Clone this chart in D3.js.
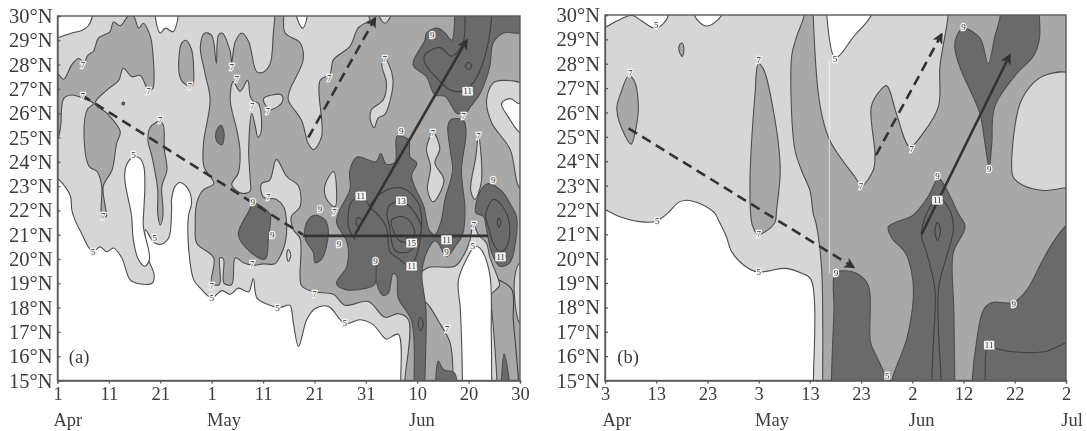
<!DOCTYPE html>
<meta charset="utf-8">
<style>
body { margin: 0; background: #fff; }
svg { filter: blur(0.4px); }
text { font-family: 'Liberation Serif', serif; fill: #3c3c3c; }
.axis text { font-size: 18.5px; }
.axis.lat text { font-size: 20.5px; }
.axis path, .axis line { stroke: #5a5a5a; stroke-width: 1.3; }
.region { stroke: #4c4c4c; stroke-width: 1.1; stroke-linejoin: round; }
.contour { fill: none; stroke: #3f3f3f; stroke-width: 1.1; }
.level { font-size: 9px; text-anchor: middle; dominant-baseline: central; paint-order: stroke; stroke: #f4f4f4; stroke-width: 2.6px; fill: #333; }
.levelbox { fill: #f2f2f2; stroke: #555; stroke-width: 0.5; }
.arrow { fill: none; stroke: #333; stroke-width: 2.6; }
.seam { fill: none; stroke: #f4f4f4; stroke-width: 0.8; }
.month, .tag { font-size: 18.5px; text-anchor: middle; }
</style>
<svg id="chart" width="1087" height="431"></svg>
<script src="https://d3js.org/d3.v7.min.js"></script>
<script>

// everything is [days since the first tick, latitude]; points past 0..90 / 15..30 get clipped by the frame
var latTicks = [15, 16, 17, 18, 19, 20, 21, 22, 23, 24, 25, 26, 27, 28, 29, 30];
var dayTicks = [0, 10, 20, 30, 40, 50, 60, 70, 80, 90];
var aDayLabels = ["1", "11", "21", "1", "11", "21", "31", "10", "20", "30"];
var bDayLabels = ["3", "13", "23", "3", "13", "23", "2", "12", "22", "2"];
var aMonths = [["Apr", 2], ["May", 32.4], ["Jun", 70.9]];
var bMonths = [["Apr", 2.3], ["May", 32.6], ["Jun", 61.8], ["Jul", 91.2]];

// panel (a), rainfall below 5
var aWhite = [
    [[-1,30.6],[-1,29.05],[0,29.1],[2.8,29.3],[4.7,29.4],[6,29.6],[6.8,30],[7,30.6]],
    [[19,30.6],[19,30],[20,29.3],[21,29.5],[22.5,29.35],[23.5,30],[23.6,30.6]],
    [[-1,14.4],[-1,23.3],[0,23.3],[1.2,23.05],[2.5,22.6],[2.8,22],[3.4,21.6],[4.7,21.05],[6,20.5],[6.9,20.3],[8.3,20.5],[9.6,20.3],[10.9,20.45],[12.5,20.05],[14.1,19.15],[15.4,19],[18.4,19],[18.8,19.35],[17.7,20],[17.1,21.2],[18.7,20.7],[20,20.6],[21.6,20.85],[22.2,22],[22.2,22.45],[22.9,23],[23.9,23.15],[25.5,22.85],[26.1,22.3],[25.5,21.8],[25.5,20.5],[26.5,19.15],[27.8,18.8],[30,18.4],[32,18.7],[33.6,18.55],[35.2,18.8],[37.2,18.65],[38.1,19.2],[38.8,18.4],[40.7,18.15],[43.3,18],[45.2,18.1],[45.9,17.35],[46.9,16.4],[48.5,17.5],[50.1,17.95],[52.7,18.05],[55.9,17.35],[58.9,17.5],[61.4,17.3],[63.4,16.8],[64,16.7],[66.3,16.9],[66.8,15],[66.8,14.4]],
    [[14.75,24.2],[13.3,23.8],[13.1,23.26],[13.8,22.44],[14.4,21.8],[14.75,20.8],[15.7,20],[17,19.7],[17.9,20],[16.7,21.34],[16.8,22.03],[17,23],[16.8,23.8],[16,24.15]]
];

// rainfall above 7
var aMid = [
    [[-1,24.95],[-1,27.75],[0,27.65],[1.2,27.4],[2.8,28],[4.1,28.25],[5.1,28.1],[6,28.4],[7,28.55],[8,29.1],[10.2,29.35],[10.9,29.75],[12.2,29.6],[13.8,30],[14.8,30],[15.8,29.5],[16.7,29.7],[18,29.2],[18.5,28.6],[18.5,27],[17.7,26.95],[16.1,27.55],[14.5,27.5],[12.8,27.85],[11.9,27.35],[9.6,26.95],[7.3,26.4],[9.6,26],[12.2,25.25],[11.5,24.75],[10.6,23.65],[8.9,23],[9.3,22.15],[9.5,21.75],[8.6,21.75],[8.5,22.15],[8.6,23],[7.7,23.6],[6.2,23.8],[5.2,24.9],[5.8,26.15],[7,26.4],[5.1,26.6],[2.8,26.75],[1.2,26.6],[0.6,25.45],[0,24.95]],
    [[20,25.65],[20.6,25.5],[20.8,24.5],[21.3,23.65],[20.3,23],[20.5,22.15],[20.5,21.75],[20,21.4],[19.5,21.9],[19.5,22.85],[18.4,24.2],[17.6,24.9],[18,25.4],[19,25.6]],
    [[25,29],[26.1,28.6],[26.5,27.7],[26.3,27.15],[25.2,27.15],[23.9,27.45],[23.7,28.45],[24.2,28.9]],
    [[42.3,30.6],[42.3,30],[42,29.3],[41.4,28.05],[40.1,27.7],[38.8,27.7],[37.2,28.95],[35.9,29.3],[34.6,28.95],[33.9,28.1],[33.6,28.55],[32,29.3],[31.3,29.2],[30.9,28.05],[30,29.2],[28.7,29.3],[27.8,28.75],[28.7,27.65],[29.7,26.55],[28.4,24.75],[28.5,23.8],[30.4,23.1],[28.4,22.85],[27.1,22.3],[26.8,21.35],[27.1,20.65],[30.4,20.05],[30,19],[31.5,18.95],[31.6,20.05],[32.3,20],[32.4,19],[33.9,18.95],[34.6,20.05],[36.2,19.85],[38.1,19.75],[40.1,19.8],[42.3,19.8],[43.3,20.1],[44.3,20.65],[44.6,21.35],[44,22.15],[42.6,22.45],[40.05,22.55],[39.7,23.1],[41.3,23.25],[42.6,24.1],[44.6,23.4],[46.9,23],[47.2,22.15],[45.5,21.75],[45.9,21.2],[47.2,20.85],[47.2,19.25],[47.5,18.9],[49.8,18.65],[53.7,18.55],[55.9,18.1],[60.5,18.25],[63.7,17.6],[66.3,17.75],[68.3,17.5],[67.6,15],[67.6,14.4],[91,14.4],[91,30.6]]
];

// back to 5-7 inside the big 7 area
var aLight = [
    [[44,30.6],[44,30],[44.3,29.3],[47.2,28.9],[47.8,28.2],[45.2,26.95],[44.9,26.55],[47.5,25.7],[48.8,24.75],[49.8,24.5],[51.4,25.05],[51.1,27.35],[53,27.6],[53.7,28.2],[56.9,28.75],[58.5,29.5],[60.8,29.85],[60.5,30],[60.5,30.6]],
    [[62.6,30.6],[62.6,30],[63.7,29.7],[64.8,30],[64.8,30.6]],
    [[40.1,26.6],[41.7,26.75],[43.6,26.75],[43.8,26.5],[42.7,26.25],[41.4,26.15],[40.4,26.35]],
    [[33.6,26.55],[34.2,27.3],[35.5,26.9],[37,27.35],[37.5,26.7],[38.1,26.5],[39.1,26.4],[39.6,25.2],[39,25],[38.5,25.45],[37.8,26],[37.2,24.5],[37.5,23.25],[37.5,22.8],[35.9,22.7],[33.9,23.05],[35.2,23.55],[35.5,24.5],[34.9,25.3]],
    [[63.7,28.25],[64.4,28.05],[65.3,27.35],[64.7,26.5],[63.7,25.95],[62.4,25.8],[61.6,25.4],[60.8,25.8],[61.1,26.15],[63.4,26.55],[64,27.25],[63.1,28]],
    [[73.1,25.2],[74.4,24.55],[73.45,23.95],[75.2,23.25],[73.1,22.35],[72,22.85],[72.6,23.8],[71.8,24.55]],
    [[81.9,25.1],[82.5,23.2],[81.2,22.45],[80.4,22.85],[81.4,24.2]],
    [[91,27.1],[86.8,27.35],[84.8,27.25],[83.5,26.55],[84.5,25.6],[88.1,24.5],[89.7,23],[91,22.8]],
    [[53.7,23.6],[54.3,22.85],[54,22.15],[52.4,22.45],[52,23]],
    [[70.5,19.35],[72.2,19.65],[77.3,19.7],[78.9,20.1],[80.3,20.8],[80.6,21.2],[80.9,21.5],[81.9,21],[83.5,20.65],[84.1,20.1],[85.8,19.15],[86,18.9],[84.1,18.45],[84.5,17.9],[85.5,15],[85.5,14.4],[77,14.4],[77,15],[76.4,16.55],[74.4,17.35],[72.4,18.05],[70.8,18.45]],
    [[44.9,20.4],[45.4,20.15],[44.9,19.9],[44.6,20.15]],
    [[91,19.85],[90,19.85],[89,19.3],[89.2,17.9],[90,17.35],[91,17.35]]
];

var aWhiteTop = [
    [[46.5,30.6],[46.5,30],[47.7,29.5],[48.6,30],[48.6,30.6]],
    [[78.8,14.4],[78.8,15],[78.4,17.9],[78,19.1],[79.6,20],[81.2,20.5],[82.2,20.45],[84.1,19.4],[84.4,17],[84.5,15],[84.5,14.4]],
    [[86.4,26.4],[88.1,26.6],[89.7,26.4],[91,26.4],[91,25.1],[89.7,25.25],[87.7,25.85]]
];

// rainfall above 9
var aDark = [
    [[31.8,25.5],[32.4,25.2],[32,24.7],[31,24.85],[30.9,25.25]],
    [[38.1,22.3],[40.1,22.1],[41.4,21.8],[41.05,20.95],[40.4,20],[37.5,20.3],[35.2,21],[37.2,21.95]],
    [[50,21.8],[52.1,21.6],[52.7,21.05],[51.4,20],[50.1,19.85],[49.8,20.25],[48.2,20.85],[48.5,21.5]],
    [[56.9,23.65],[58.3,24.2],[62,24],[62.9,24.35],[64,23.9],[65.7,24],[66.1,25.05],[68.3,24.9],[68.6,24.2],[69.9,23.95],[68.9,23.4],[71.3,22.15],[71.8,21.6],[72.3,21.2],[73.45,21],[74.7,21.6],[75.4,22.45],[76.9,23.65],[76.4,24.5],[76,25.5],[76.7,25.75],[79,25.7],[79.5,25.2],[78.6,23.65],[79.3,22],[78.8,21],[77.3,20.5],[75.7,20.1],[74.1,20.65],[73.45,20.75],[71.8,20.25],[70.9,19.4],[71.7,17.9],[71.5,15],[71.5,14.4],[69.4,14.4],[69.4,15],[68.9,17.45],[66.3,18.4],[66,19.3],[65.3,19.4],[64.4,18.6],[63.4,18.5],[62.2,18.95],[62,20],[61.7,18.95],[60.1,18.8],[55.9,18.75],[54.3,19],[56.3,19.7],[56.4,20.65],[54.3,21.5],[54.9,22],[56.9,22.85]],
    [[69.2,28],[71.5,29],[71.8,29.3],[73.8,29.5],[75.4,29.3],[76.7,29],[77.3,29.9],[77.3,30.6],[91,30.6],[91,29.35],[86.8,29.3],[84.8,28.9],[84.1,27.9],[82.2,26.8],[80.3,26.25],[79.6,26.05],[77.7,26],[76.7,26.3],[75.4,26.7],[73.45,26.75],[71.8,27.5]],
    [[81.4,21.9],[82.3,22.8],[83.7,23.1],[86.4,22.8],[88.4,22.15],[89.3,21.75],[89.2,20.8],[88,19.85],[86.1,19.7],[84.5,20.25],[83.5,21.2],[82.9,21.75]],
    [[73.6,14.4],[73.6,15],[74.1,15.8],[75.1,15.45],[77.3,15.3],[77.3,14.4]],
    [[86.4,14.4],[86.4,15],[86.9,16.1],[87.9,15],[87.9,14.4]],
    [[12.6,26.45],[13,26.45],[13,26.35],[12.6,26.35]]
];

// 11, 13 and 15 contours, no extra shade
var aRings = [
    [[80,28.1],[80.6,27.95],[80,27.8],[79.3,27.95]],
    [[60.8,22.15],[63.7,22.8],[67.3,22.9],[70.2,22.3],[70.9,21.5],[70.4,20.6],[69.5,19.95],[68.5,19.7],[66.5,20],[64.7,20.3],[64,21.3],[62,21.9]],
    [[64.1,21.9],[64.8,22.25],[67.3,22.35],[69.5,21.9],[70.8,21.3],[70.2,20.8],[68.3,20.3],[65.7,20.35],[64.6,21.35]],
    [[65,21.6],[67,21.75],[68.6,21.55],[69.5,21.05],[68.6,20.7],[66.6,20.75],[65.3,21.2]],
    [[58.3,21.7],[59.2,21.6],[58.9,21.35],[58.2,21.4]],
    [[83.5,22],[84.8,22.45],[86.8,22.1],[88,21.35],[87.4,20.5],[86.1,20.3],[84.8,20.65],[83.8,21.35],[83.3,21.75]],
    [[85.9,21.7],[86.3,21.5],[85.9,21.3],[85.6,21.5]],
    [[70.6,17.6],[71.2,17.35],[70.6,17.05],[70.2,17.35]]
];
var aOpen = [
    [[79.3,30.6],[79.3,30],[78.9,28.9],[76.7,28.35],[74.4,28.7],[71.5,28.4],[71.5,28.05],[73.8,27.45],[76.4,26.95],[78.6,26.9],[80.9,27.25],[82.5,27.9],[83.8,28.9],[84.5,30],[84.5,30.6]],
    [[57.9,20.8],[56.6,21.35],[57.2,22.35],[59,22.55],[60.8,22.15]],
    [[85.8,19.15],[88.4,18.75],[88.7,17.5],[89.7,15],[89.7,14.4]]
];

var aLabels = [
    ["7",4.9,28],["7",17.7,26.9],["7",4.9,26.7],["7",25.8,27.1],["7",20,25.7],["5",14.8,24.3],["7",8.9,21.75],["5",6.9,20.3],["5",18.9,20.85],
    ["7",33.9,27.9],["7",34.9,27.4],["7",37.9,26.3],["7",40.9,26.1],["7",41,22.55],["9",38,22.35],["7",30,18.9],["5",30,18.4],["7",37.9,19.8],["9",41.8,21],["5",42.8,18],
    ["7",52.9,27.45],["7",63.7,28.25],["9",72.9,29.2],["11",79.8,26.9],["7",79,25.9],["9",66.9,25.25],["7",73,25.2],["7",81.9,25.05],["9",84.8,23.25],["11",59,22.6],["13",66.9,22.4],["9",51.1,22.05],["7",53.9,21.95],
    ["7",50,18.55],["5",55.9,17.35],["9",54.8,20.6],["9",61.9,19.9],["15",68.9,20.65],["11",68.9,19.7],["11",75.7,20.8],["9",75.7,20.3],["7",81,21.4],["5",80.8,20.55],["11",86.2,20.1],["7",75.8,17.1]
];

var aDashed = [[[4.7,26.75],[47.8,21]]];
var aDashedArrow = [[[48.8,25],[61.8,29.9]]];
var aSolid = [[[47.8,20.95],[83.8,20.95]]];
var aSolidArrow = [[[57.9,21],[79.6,29]]];

// panel (b)
var bWhite = [
    [[-1,30.6],[-1,29.45],[0,29.5],[2.3,29.75],[4.6,29.97],[5.6,29.97],[7.2,29.75],[9.8,29.45],[11.4,29.65],[12.4,30],[12.5,30.6]],
    [[17.4,30.6],[17.4,30],[19.8,29.55],[22.8,30],[22.8,30.6]],
    [[43.3,30.6],[43.3,30],[44.7,28.3],[45.5,28.3],[48.5,29.1],[52,30],[52.2,30.6]],
    [[-1,14.4],[-1,22],[0,22],[3.2,21.7],[7.8,21.5],[10.1,21.55],[12.4,21.9],[14.3,22.3],[15.9,22.4],[18.6,22.25],[21.5,21.85],[22.1,21.6],[23.7,20.9],[24.7,20.3],[27.3,19.7],[29.9,19.45],[32,19.5],[35.2,19.6],[38.4,19.4],[40.2,19.15],[40.7,15],[40.7,14.4]]
];
var bMid = [
    [[4.6,27.5],[5.7,27.3],[6.5,26.25],[6,25.3],[5.1,24.7],[3.9,25.05],[2.3,26.15],[3.1,26.8]],
    [[15,28.85],[15.4,28.65],[15.1,28.3],[14.5,28.5],[14.5,28.75]],
    [[29.95,28],[30.9,27.8],[32.5,26.5],[34.2,23.75],[33.5,22],[33.2,21.5],[31.6,21.15],[29.95,21],[28.8,21.35],[28.3,22.65],[29.3,26.8]],
    [[38.9,30.6],[38.9,30],[37.4,29.1],[36.5,28.4],[36.3,26.8],[37.1,24.45],[38.4,23.6],[40,22.8],[40.65,21.85],[41.3,21.35],[42.3,19.55],[42.5,15],[42.5,14.4],[91,14.4],[91,30.6],[67,30.6],[67,30],[65.4,27.9],[65.1,26.25],[62.1,25.15],[59.5,24.6],[56.9,25.95],[55,27.1],[53.7,26.9],[52,26.25],[52.7,24.3],[52.4,23.65],[50.1,23],[48.8,23.35],[43.9,24.85],[42,26.25],[40.65,30],[40.65,30.6]]
];
var bLight = [
    [[91,27.55],[86.2,27.55],[83.6,27.2],[81,26.35],[79.4,24],[79.7,23.35],[81.7,23],[85.6,22.8],[89.8,22.9],[91,22.9]]
];
var bDark = [
    [[70,29.45],[73.2,29.05],[74.8,28],[76.1,29.1],[77.2,30],[77.2,30.6],[84.8,30.6],[84.8,30],[84.8,29],[83.6,28.3],[80.4,27.6],[76.1,26.25],[75.5,24.7],[75,23.75],[74.2,24.7],[73.2,25.95],[69.3,27.85],[68.3,28.65],[68.6,29.1]],
    [[44.2,14.4],[44.2,15],[44.7,17.9],[44.9,19.4],[46.5,19.5],[49.1,19.4],[51.4,18.9],[51.85,16.55],[53,16],[55,15],[55,14.4]],
    [[56,14.4],[56,15],[58.9,16.7],[60.2,18.45],[59.9,19.4],[58.6,20.25],[56,20.85],[55.3,21.3],[56.9,21.5],[59.5,21.7],[60.5,21.85],[63.1,22.55],[65.1,23.3],[66,23.1],[69,21.85],[70.3,21.3],[68,20.25],[68.1,17.9],[68.3,15],[68.3,14.4]],
    [[71.7,14.4],[71.7,15],[72.5,16.55],[73.9,17.9],[75.5,18.2],[79.7,18.2],[82.3,18.7],[85.6,20],[87.9,20.8],[90,21.35],[91,21.5],[91,14.4]]
];
var bRings = [
    [[64.9,21.5],[65.5,21.15],[64.9,20.75],[64.4,21.15]]
];
var bOpen = [
    [[63.8,14.4],[63.8,15],[64.1,16.55],[64.4,18.75],[62.5,20.45],[61.8,20.9],[62.8,21.85],[65,22.5],[67.3,22],[68,21.2],[66.7,20.1],[65.1,18.75],[65.6,15],[65.6,14.4]],
    [[74.2,14.4],[74.2,15],[74.5,16.3],[75,16.45],[76.5,16.3],[81.7,16.15],[86.2,16.2],[90,16.55],[91,16.6]]
];
var bSeam = [[[43.8,28.2],[43.8,19.4]]];
var bLabels = [
    ["5",10,29.6],["7",5,27.6],["7",30,28.15],["7",30,21],["5",10.2,21.55],["5",30,19.45],["5",44.9,28.2],["7",59.9,24.5],["7",50,23],
    ["9",70,29.5],["9",75,23.7],["9",64.9,23.4],["11",64.9,22.4],["9",45.1,19.4],["9",79.8,18.15],["11",75,16.45],["5",55.1,15.2]
];
var bDashedArrow = [[[4.6,25.35],[48.5,19.65]], [[52.9,24.25],[65.7,29.2]]];
var bSolidArrow = [[[61.8,21],[79,28.35]]];

var shades = {white: "#ffffff", light: "#d6d6d6", mid: "#a8a8a8", dark: "#6a6a6a"};

var svg = d3.select("#chart");
var defs = svg.append("defs");

defs.append("marker")
    .attr("id", "head")
    .attr("viewBox", "0 0 10 10")
    .attr("refX", 8).attr("refY", 5)
    .attr("markerUnits", "userSpaceOnUse")
    .attr("markerWidth", 11).attr("markerHeight", 11)
    .attr("orient", "auto")
    .append("path")
    .attr("d", "M0,0 L10,5 L0,10 L2.5,5 Z")
    .attr("fill", "#333");

function drawPanel(id, box, d) {
    var x = d3.scaleLinear().domain([0, 90]).range([box.left, box.right]);
    var y = d3.scaleLinear().domain([15, 30]).range([box.bottom, box.top]);

    defs.append("clipPath").attr("id", "clip" + id)
        .append("rect")
        .attr("x", box.left).attr("y", box.top)
        .attr("width", box.right - box.left).attr("height", box.bottom - box.top);

    var ring = d3.line().x(function(p) { return x(p[0]); }).y(function(p) { return y(p[1]); })
        .curve(d3.curveCatmullRomClosed.alpha(0.5));
    var open = d3.line().x(function(p) { return x(p[0]); }).y(function(p) { return y(p[1]); })
        .curve(d3.curveCatmullRom.alpha(0.5));
    var straight = d3.line().x(function(p) { return x(p[0]); }).y(function(p) { return y(p[1]); });

    var g = svg.append("g").attr("clip-path", "url(#clip" + id + ")");

    g.append("rect")
        .attr("x", box.left).attr("y", box.top)
        .attr("width", box.right - box.left).attr("height", box.bottom - box.top)
        .attr("fill", shades.light);

    function layer(polys, shade) {
        g.selectAll(null).data(polys).enter().append("path")
            .attr("class", "region")
            .attr("d", ring)
            .attr("fill", shade);
    }
    layer(d.white, shades.white);
    layer(d.mid, shades.mid);
    layer(d.light, shades.light);
    layer(d.whiteTop, shades.white);
    layer(d.dark, shades.dark);

    g.selectAll(null).data(d.rings).enter().append("path").attr("class", "contour").attr("d", ring);
    g.selectAll(null).data(d.open).enter().append("path").attr("class", "contour").attr("d", open);
    g.selectAll(null).data(d.seam).enter().append("path").attr("class", "seam").attr("d", straight);

    // arrows sit on top of the shading
    function arrows(lines, dashed, head) {
        g.selectAll(null).data(lines).enter().append("path")
            .attr("class", "arrow")
            .attr("stroke-dasharray", dashed ? "10,6" : null)
            .attr("d", straight)
            .attr("marker-end", head ? "url(#head)" : null);
    }
    arrows(d.dashed, true, false);
    arrows(d.dashedArrow, true, true);
    arrows(d.solid, false, false);
    arrows(d.solidArrow, false, true);

    // the two digit levels got a little box in the original
    g.selectAll(null).data(d.labels.filter(function(l) { return l[0].length > 1; })).enter().append("rect")
        .attr("class", "levelbox")
        .attr("x", function(l) { return x(l[1]) - 5.5; })
        .attr("y", function(l) { return y(l[2]) - 4.5; })
        .attr("width", 11).attr("height", 9);

    g.selectAll(null).data(d.labels).enter().append("text")
        .attr("class", "level")
        .attr("x", function(l) { return x(l[1]); })
        .attr("y", function(l) { return y(l[2]); })
        .text(function(l) { return l[0]; });

    svg.append("rect")
        .attr("x", box.left).attr("y", box.top)
        .attr("width", box.right - box.left).attr("height", box.bottom - box.top)
        .attr("fill", "none").attr("stroke", "#5a5a5a").attr("stroke-width", 1.4);

    svg.append("g")
        .attr("class", "axis lat")
        .attr("transform", "translate(" + box.left + ",0)")
        .call(d3.axisLeft(y).tickValues(latTicks).tickSize(-3).tickPadding(5)
            .tickFormat(function(v) { return v + "°N"; }));

    svg.append("g")
        .attr("class", "axis")
        .attr("transform", "translate(0," + box.bottom + ")")
        .call(d3.axisBottom(x).tickValues(dayTicks).tickSize(3).tickPadding(3)
            .tickFormat(function(v, i) { return d.dayLabels[i]; }));

    svg.selectAll(null).data(d.months).enter().append("text")
        .attr("class", "month")
        .attr("x", function(m) { return x(m[1]); })
        .attr("y", box.bottom + 45)
        .text(function(m) { return m[0]; });

    svg.append("text")
        .attr("class", "tag")
        .attr("x", x(d.tag[1])).attr("y", y(d.tag[2]))
        .text(d.tag[0]);
}

drawPanel("a", {left: 57.5, right: 520, top: 16, bottom: 380.5}, {
    white: aWhite, mid: aMid, light: aLight, whiteTop: aWhiteTop, dark: aDark,
    rings: aRings, open: aOpen, seam: [], dashed: aDashed, dashedArrow: aDashedArrow, solid: aSolid, solidArrow: aSolidArrow,
    labels: aLabels, dayLabels: aDayLabels, months: aMonths, tag: ["(a)", 4.2, 15.7]
});

drawPanel("b", {left: 605, right: 1066, top: 15, bottom: 380.5}, {
    white: bWhite, mid: bMid, light: bLight, whiteTop: [], dark: bDark,
    rings: bRings, open: bOpen, seam: bSeam, dashed: [], dashedArrow: bDashedArrow, solid: [], solidArrow: bSolidArrow,
    labels: bLabels, dayLabels: bDayLabels, months: bMonths, tag: ["(b)", 4.5, 15.7]
});

</script>
